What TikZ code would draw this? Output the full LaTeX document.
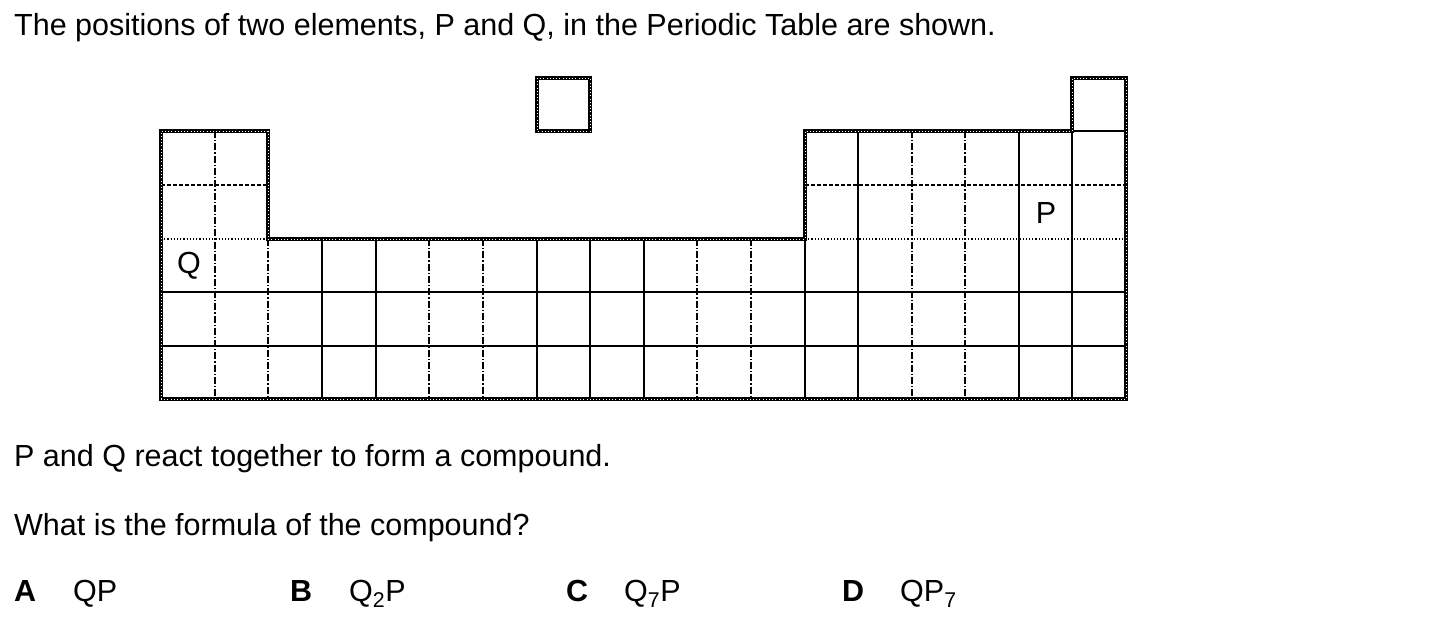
\documentclass[tikz,border=0pt]{standalone}
\usepackage{fontspec}
\setmainfont{Liberation Sans}
\begin{document}
\begin{tikzpicture}[x=1pt,y=-1pt,
  thin line/.style={line width=1.3pt},
  dashdot/.style={thin line,dash pattern=on 7pt off 2pt on 1.3pt off 2pt},
  dashline/.style={thin line,dash pattern=on 4pt off 2pt},
  dotline/.style={thin line,dash pattern=on 1.2pt off 2pt},
  outline/.style={line width=3.6pt,line join=miter},
  outlinedots/.style={white,line width=0.8pt,dash pattern=on 0.8pt off 2.4pt},
  maintext/.style={anchor=base west,inner sep=0pt,font=\fontsize{30.5}{36}\selectfont},
  opttext/.style={anchor=base west,inner sep=0pt,font=\fontsize{30.5}{36}\selectfont},
  optletter/.style={anchor=base west,inner sep=0pt,font=\fontsize{30.5}{36}\selectfont\bfseries},
  celltext/.style={inner sep=0pt,font=\fontsize{30.5}{36}\selectfont}]
\useasboundingbox[fill=white] (0,0) rectangle (1442,635);
% horizontal inner lines
\draw[thin line] (1072,131) -- (1126,131);
\draw[dashline] (161,185) -- (268,185);
\draw[dashline] (805,185) -- (1126,185);
\draw[dotline] (161,239) -- (268,239);
\draw[dotline] (805,239) -- (1126,239);
\draw[thin line] (161,292) -- (1126,292);
\draw[thin line] (161,346) -- (1126,346);
% vertical inner lines
\draw[dashdot] (215,131) -- (215,399);
\foreach \x in {268,429,483,697,751} \draw[dashdot] (\x,239) -- (\x,399);
\foreach \x in {322,376,537,590,644,805} \draw[thin line] (\x,239) -- (\x,399);
\foreach \x in {858,1019,1072} \draw[thin line] (\x,131) -- (\x,399);
\foreach \x in {912,965} \draw[dashdot] (\x,131) -- (\x,399);
% outline
\draw[outline] (161,399) -- (161,131) -- (268,131) -- (268,239) -- (805,239) -- (805,131) -- (1072,131) -- (1072,78) -- (1126,78) -- (1126,399) -- cycle;
\draw[outlinedots] (161,399) -- (161,131) -- (268,131) -- (268,239) -- (805,239) -- (805,131) -- (1072,131) -- (1072,78) -- (1126,78) -- (1126,399) -- cycle;
\draw[outline] (537,78) rectangle (590,131);
\draw[outlinedots] (537,78) rectangle (590,131);
% cell labels
\node[celltext] (q) at (189,266) {Q};
\node[celltext] (p) at (1046,213) {P};
% texts
\node[maintext] (t1) at (14,35) {The positions of two elements, P and Q, in the Periodic Table are shown.};
\node[maintext] (t2) at (14,466) {P and Q react together to form a compound.};
\node[maintext] (t3) at (14,535) {What is the formula of the compound?};
\node[optletter] (oa) at (14,601) {A};
\node[opttext] (ta) at (73,601) {QP};
\node[optletter] (ob) at (290,601) {B};
\node[opttext] (tb) at (349,601) {Q\textsubscript{2}P};
\node[optletter] (oc) at (566,601) {C};
\node[opttext] (tc) at (624,601) {Q\textsubscript{7}P};
\node[optletter] (od) at (842,601) {D};
\node[opttext] (td) at (900,601) {QP\textsubscript{7}};
\end{tikzpicture}
\end{document}
